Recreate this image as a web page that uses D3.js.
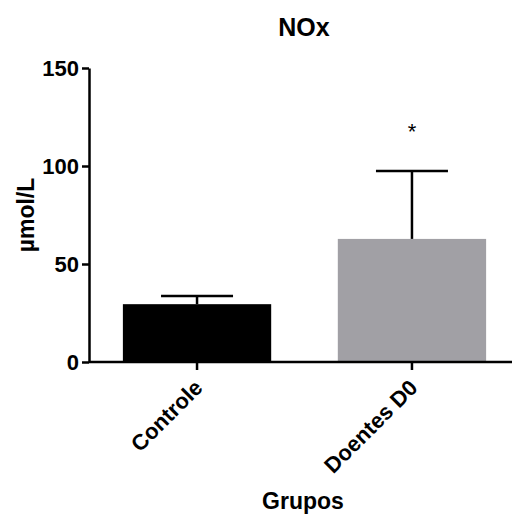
<!DOCTYPE html>
<html>
<head>
<meta charset="utf-8">
<script src="https://cdn.jsdelivr.net/npm/d3@7"></script>
<style>
  body { margin: 0; background: #fff; }
  text { font-family: "Liberation Sans", Arial, sans-serif; font-weight: bold; }
</style>
</head>
<body>
<script>
// data
const groups = ["Controle", "Doentes D0"];
const means = [29.5, 62.8];
const sems = [4.2, 34.7];
const barColors = ["#000000", "#a1a0a5"];
const marks = ["", "*"];
const yTicks = [0, 50, 100, 150];

const width = 512, height = 514;
const svg = d3.select("body").append("svg")
    .attr("width", width)
    .attr("height", height);

const x = d3.scaleBand()
    .domain(groups)
    .range([90, 519])
    .paddingInner(0.31)
    .paddingOuter(0.153);

const y = d3.scaleLinear()
    .domain([0, 150])
    .range([362, 68]);

// bars
svg.selectAll("rect.bar")
  .data(groups)
  .enter().append("rect")
    .attr("class", "bar")
    .attr("x", d => x(d))
    .attr("y", (d, i) => y(means[i]))
    .attr("width", x.bandwidth())
    .attr("height", (d, i) => y(0) - y(means[i]))
    .attr("fill", (d, i) => barColors[i]);

// error bars (upper only)
const err = svg.selectAll("g.err")
  .data(groups)
  .enter().append("g")
    .attr("class", "err")
    .attr("stroke", "#000")
    .attr("stroke-width", 2.5);

err.append("line")
    .attr("x1", d => x(d) + x.bandwidth() / 2)
    .attr("x2", d => x(d) + x.bandwidth() / 2)
    .attr("y1", (d, i) => y(means[i]))
    .attr("y2", (d, i) => y(means[i] + sems[i]));

err.append("line")
    .attr("x1", d => x(d) + x.bandwidth() / 2 - 36)
    .attr("x2", d => x(d) + x.bandwidth() / 2 + 36)
    .attr("y1", (d, i) => y(means[i] + sems[i]))
    .attr("y2", (d, i) => y(means[i] + sems[i]));

// significance mark
svg.selectAll("text.sig")
  .data(groups)
  .enter().append("text")
    .attr("class", "sig")
    .attr("x", d => x(d) + x.bandwidth() / 2)
    .attr("y", (d, i) => y(means[i] + sems[i]) - 32)
    .attr("text-anchor", "middle")
    .style("font-size", "22px")
    .style("font-weight", "normal")
    .text((d, i) => marks[i]);

// y axis
const yAxis = svg.append("g")
    .attr("transform", "translate(89,0)")
    .call(d3.axisLeft(y).tickValues(yTicks).tickSize(7).tickSizeOuter(0).tickPadding(3));
yAxis.selectAll("text").style("font-size", "22px").attr("fill", "#000");

// x axis
const xAxis = svg.append("g")
    .attr("transform", `translate(0,${y(0)})`)
    .call(d3.axisBottom(x).tickSize(8).tickSizeOuter(0));
xAxis.select(".domain").attr("d", "M89,0H512");
xAxis.selectAll("text")
    .style("font-size", "22px")
    .attr("fill", "#000")
    .attr("text-anchor", "end")
    .attr("dy", null)
    .attr("y", null)
    .attr("transform", "translate(7,27) rotate(-45)");

svg.selectAll(".domain, .tick line")
    .attr("stroke", "#000")
    .attr("stroke-width", 2.5);

// titles
svg.append("text")
    .attr("x", 304)
    .attr("y", 36)
    .attr("text-anchor", "middle")
    .style("font-size", "25px")
    .text("NOx");

svg.append("text")
    .attr("x", 303)
    .attr("y", 509)
    .attr("text-anchor", "middle")
    .style("font-size", "23px")
    .text("Grupos");

svg.append("text")
    .attr("transform", "translate(34,215) rotate(-90)")
    .attr("text-anchor", "middle")
    .style("font-size", "23px")
    .text("µmol/L");
</script>
</body>
</html>
